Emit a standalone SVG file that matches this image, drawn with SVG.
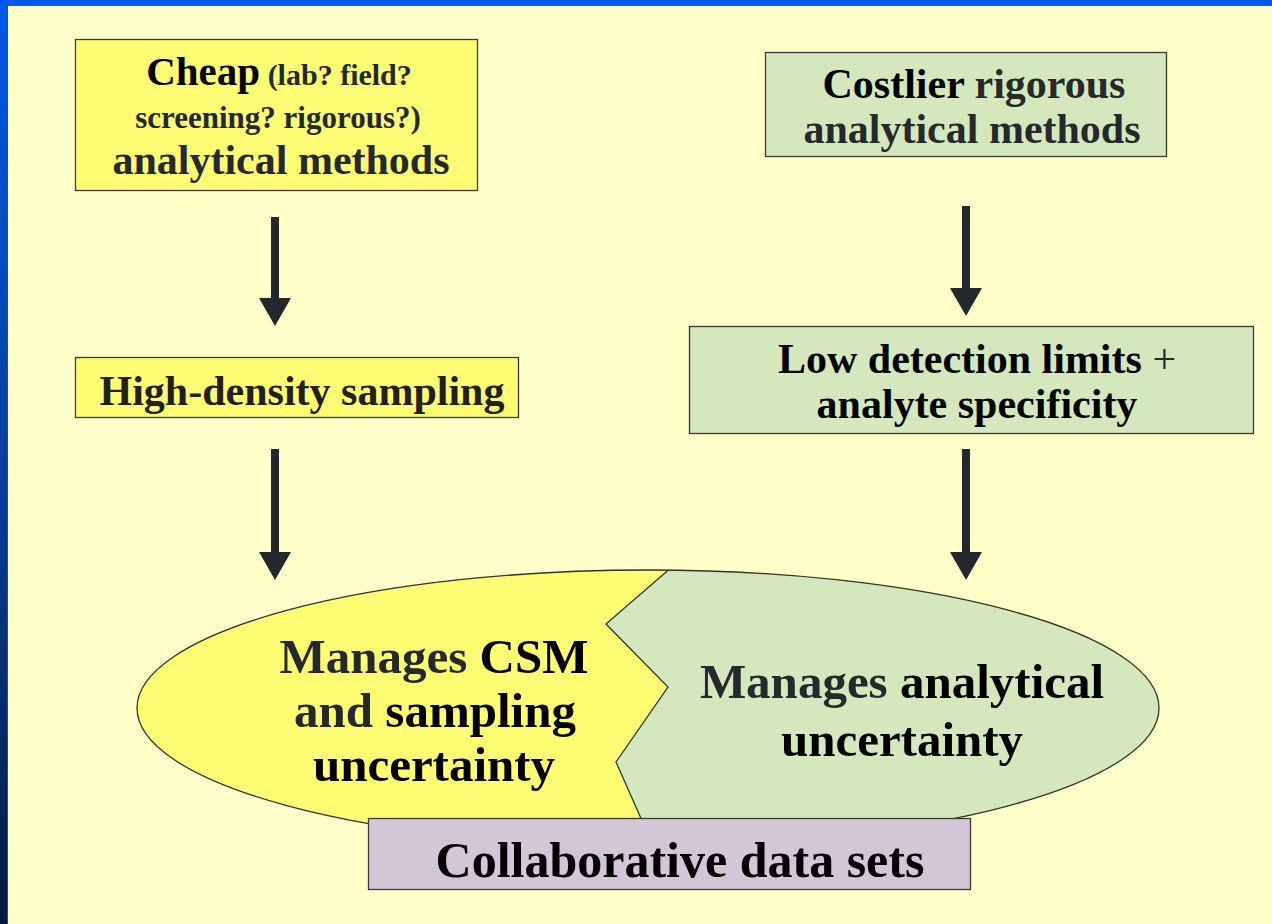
<svg xmlns="http://www.w3.org/2000/svg" width="1272" height="924" viewBox="0 0 1272 924">
<style>
text{font-family:"Liberation Serif","Times New Roman",serif;font-weight:bold;}
.box{stroke:#3a3a36;stroke-width:1.3;}
.dk{fill:#25292c;}
.bk{fill:#000;}
.arrow{fill:#22282c;}
</style>
<defs>
<linearGradient id="side" x1="0" y1="0" x2="0" y2="1">
<stop offset="0" stop-color="#0058ee"/>
<stop offset="0.5" stop-color="#0a3f9e"/>
<stop offset="1" stop-color="#021a40"/>
</linearGradient>
<clipPath id="ell"><ellipse cx="648" cy="708" rx="511" ry="138"/></clipPath>
</defs>
<rect x="0" y="0" width="1272" height="924" fill="#ffffc9"/>
<rect x="0" y="0" width="1272" height="5" fill="#0058ee"/>
<rect x="0" y="5" width="1272" height="1" fill="#3a5a8a"/>
<rect x="0" y="0" width="7" height="924" fill="url(#side)"/>
<rect x="7" y="5" width="1" height="919" fill="#3a4a6a"/>

<g id="connectors">
<path class="arrow" d="M271 217H279V298H291L275 326L259 298H271Z"/>
<path class="arrow" d="M271 449H279V552H291L275 580L259 552H271Z"/>
<path class="arrow" d="M962 206H970V288H982L966 316L950 288H962Z"/>
<path class="arrow" d="M962 449H970V552H982L966 580L950 552H962Z"/>
</g>

<g id="node-cheap">
<rect class="box" x="75.5" y="39.5" width="402" height="151" fill="#fefd73"/>
<text x="279" y="85" text-anchor="middle"><tspan class="bk" font-size="41">Cheap</tspan><tspan class="dk" font-size="30"> (lab? field?</tspan></text>
<text x="278" y="128" text-anchor="middle" class="dk" font-size="31">screening? rigorous?)</text>
<text x="281" y="174" text-anchor="middle" class="dk" font-size="42">analytical methods</text>
</g>

<g id="node-costlier">
<rect class="box" x="765.5" y="52.5" width="401" height="104" fill="#d5e8bd"/>
<text x="974" y="98" text-anchor="middle" font-size="42"><tspan class="bk">Costlier</tspan><tspan class="dk"> rigorous</tspan></text>
<text x="972" y="143" text-anchor="middle" class="dk" font-size="42">analytical methods</text>
</g>

<g id="node-highdensity">
<rect class="box" x="75.5" y="357.5" width="443" height="60" fill="#fefd73"/>
<text x="302" y="405" text-anchor="middle" font-size="42" fill="#231f1a">High-density sampling</text>
</g>

<g id="node-lowdetection">
<rect class="box" x="689.5" y="326.5" width="564" height="107" fill="#d5e8bd"/>
<text x="977" y="373" text-anchor="middle" font-size="42"><tspan class="bk">Low detection limits</tspan><tspan class="dk" font-weight="normal"> +</tspan></text>
<text x="977" y="418" text-anchor="middle" class="bk" font-size="42">analyte specificity</text>
</g>

<g id="node-ellipse">
<ellipse cx="648" cy="708" rx="511" ry="138" fill="#fefd73"/>
<polygon clip-path="url(#ell)" points="680,560 606,624 668,687 616,762 655,850 1200,850 1200,560" fill="#d5e8bd"/>
<polyline points="680,560 606,624 668,687 616,762 655,850" fill="none" stroke="#33332e" stroke-width="1.3" clip-path="url(#ell)"/>
<ellipse cx="648" cy="708" rx="511" ry="138" fill="none" stroke="#33332e" stroke-width="1.3"/>
<text x="434" y="673" text-anchor="middle" font-size="49"><tspan class="dk">Manages</tspan><tspan class="bk"> CSM</tspan></text>
<text x="435" y="727" text-anchor="middle" font-size="49"><tspan class="dk">and</tspan><tspan class="bk"> sampling</tspan></text>
<text x="434" y="781" text-anchor="middle" class="bk" font-size="49">uncertainty</text>
<text x="902" y="698" text-anchor="middle" font-size="49"><tspan class="dk">Manages</tspan><tspan class="bk"> analytical</tspan></text>
<text x="902" y="756" text-anchor="middle" class="bk" font-size="49">uncertainty</text>
</g>

<g id="node-collaborative">
<rect class="box" x="368.5" y="818.5" width="602" height="71" fill="#d3c6d7"/>
<text x="680" y="877" text-anchor="middle" class="bk" font-size="50">Collaborative data sets</text>
</g>
</svg>
